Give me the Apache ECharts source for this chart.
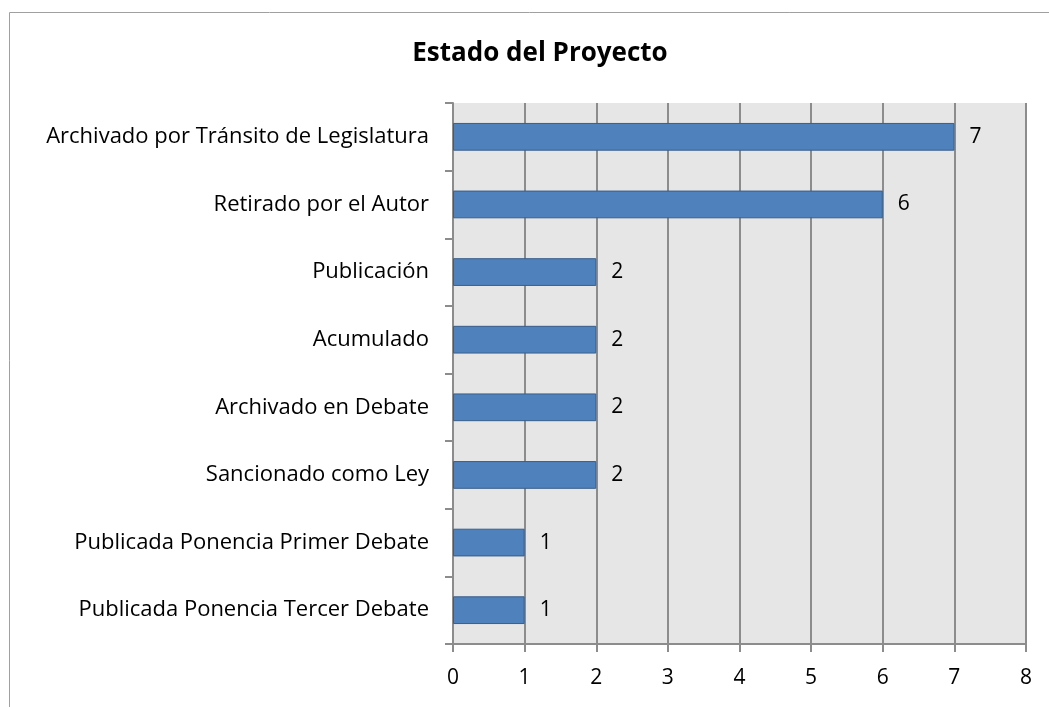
<!DOCTYPE html>
<html><head><meta charset="utf-8">
<script src="https://cdn.jsdelivr.net/npm/echarts@6/dist/echarts.min.js"></script>
<style>html,body{margin:0;padding:0;background:#fff}#c{width:1049px;height:707px}</style>
</head><body><div id="c"></div>
<script>
const categories = ["Archivado por Tránsito de Legislatura","Retirado por el Autor","Publicación","Acumulado","Archivado en Debate","Sancionado como Ley","Publicada Ponencia Primer Debate","Publicada Ponencia Tercer Debate"];
const values = [7,6,2,2,2,2,1,1];
const xTicks = [0,1,2,3,4,5,6,7,8];
const titleText = "Estado del Proyecto";

const chart = echarts.init(document.getElementById('c'), null, {renderer:'canvas'});
const FONT = "Open Sans";
chart.setOption({
  backgroundColor:'#fff',
  animation:false,
  title:{text:titleText,left:535,top:36,textAlign:'center',
    textStyle:{fontFamily:FONT,fontWeight:'bold',fontSize:26,color:'#000'}},
  graphic:[{type:'rect',shape:{x:9.5,y:12.5,width:1100,height:800},
    style:{fill:'none',stroke:'#a0a0a0',lineWidth:1},silent:true,z:-1}],
  grid:{left:453,right:23,top:103,bottom:63,show:true,backgroundColor:'#e6e6e6',borderWidth:0},
  xAxis:{type:'value',min:xTicks[0],max:xTicks[xTicks.length-1],interval:1,
    axisLine:{show:true,lineStyle:{color:'#8c8c8c',width:2}},
    axisTick:{show:true,length:8,lineStyle:{color:'#8c8c8c',width:2}},
    axisLabel:{margin:24,fontFamily:FONT,fontSize:21,color:'#000'},
    splitLine:{show:true,lineStyle:{color:'#8c8c8c',width:2}}},
  yAxis:{type:'category',data:categories,inverse:true,
    axisLine:{show:true,lineStyle:{color:'#8c8c8c',width:2}},
    axisTick:{show:true,length:8,lineStyle:{color:'#8c8c8c',width:2}},
    axisLabel:{margin:24,fontFamily:FONT,fontSize:22,color:'#000'},
    splitLine:{show:false}},
  series:[{type:'bar',data:values,barCategoryGap:'59%',
    itemStyle:{color:'#4f81bd',borderColor:'#385d8a',borderWidth:1},
    label:{show:true,position:'right',distance:15,fontFamily:FONT,fontSize:21,color:'#000'}}]
});
</script></body></html>
